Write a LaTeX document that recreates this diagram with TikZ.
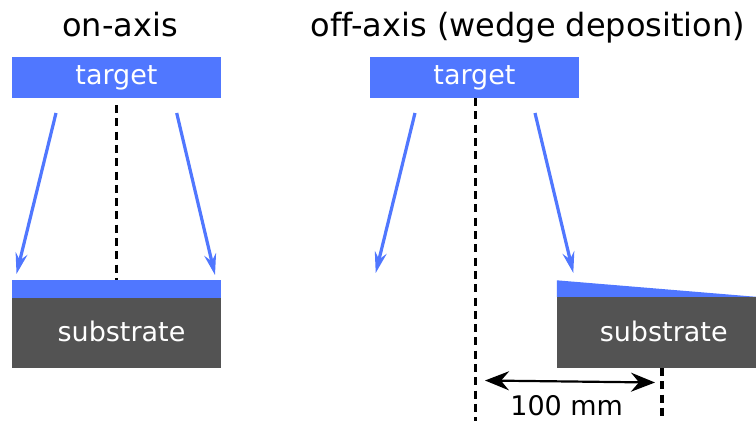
\documentclass[tikz,border=0pt]{standalone}
\usepackage{fontspec}
\setmainfont{DejaVu Sans}[Ligatures=NoCommon]
\usetikzlibrary{arrows.meta}
\definecolor{filmblue}{RGB}{80,119,255}
\definecolor{subgray}{RGB}{83,83,83}
\tikzset{
	targetbox/.style={fill=filmblue, text=white, inner sep=0pt, minimum width=209pt, minimum height=41pt, font=\fontsize{27}{30}\selectfont},
	filmbox/.style={fill=filmblue, inner sep=0pt, minimum width=209pt, minimum height=18pt},
	substratebox/.style={fill=subgray, inner sep=0pt},
	boxtext/.style={text=white, anchor=base, inner sep=0pt, font=\fontsize{27}{30}\selectfont},
	titletext/.style={anchor=base, inner sep=0pt, font=\fontsize{32}{36}\selectfont},
	flux/.style={filmblue, line width=3.2pt, -{Stealth[length=21pt,width=12pt,inset=7pt]}},
	axisline/.style={black, line width=3.2pt, dash pattern=on 8pt off 5.3pt},
	dimarrow/.style={black, line width=2.2pt, {Stealth[length=24pt,width=19pt,inset=8pt]}-{Stealth[length=24pt,width=19pt,inset=8pt]}}
}

\begin{document}
\begin{tikzpicture}[x=1pt, y=-1pt]
		\useasboundingbox (0, 0) rectangle (756, 421);
		%%%%% ON-AXIS %%%%%
		\node[titletext] (titleL) at (119.9, 36) {on-axis};
		\node[targetbox] (tgtL) at (116.5, 77.5) {target};
		\node[filmbox] (filmL) at (116.5, 289) {};
		\node[substratebox, minimum width=209pt, minimum height=70pt] (subL) at (116.5, 333) {};
		\node[boxtext] (subLtext) at (121.5, 341.7) {substrate};
		
		\coordinate (axLtop) at (116.5, 105);
		\draw[axisline] (axLtop) -- (filmL.north);
		
		\coordinate (fluxLa) at (56, 113);
		\coordinate (fluxLb) at (16.5, 274);
		\coordinate (fluxLc) at (176.7, 113);
		\coordinate (fluxLd) at (215, 275);
		\draw[flux] (fluxLa) -- (fluxLb);
		\draw[flux] (fluxLc) -- (fluxLd);
		
		%%%%% OFF-AXIS %%%%%
		\node[titletext] (titleR) at (528, 36) {off-axis (wedge deposition)};
		\node[targetbox] (tgtR) at (474.5, 77.5) {target};
		\node[substratebox, minimum width=199pt, minimum height=71pt] (subR) at (656.5, 332.5) {};
		\node[boxtext] (subRtext) at (663.7, 341.7) {substrate};
		\fill[filmblue] (subR.north west) -- ++(0, -16.5) -- (subR.north east) -- cycle;
		
		\coordinate (axRtop) at (475.3, 98);
		\coordinate (axRbot) at (475.3, 421);
		\coordinate (offtop) at (662, 368);
		\coordinate (offbot) at (662, 421);
		\draw[axisline] (axRtop) -- (axRbot);
		\draw[axisline] (offtop) -- (offbot);
		
		\coordinate (fluxRa) at (415, 113);
		\coordinate (fluxRb) at (375.7, 273);
		\coordinate (fluxRc) at (535, 113);
		\coordinate (fluxRd) at (573.3, 273);
		\draw[flux] (fluxRa) -- (fluxRb);
		\draw[flux] (fluxRc) -- (fluxRd);
		
		\coordinate (dimL) at (485, 380.5);
		\coordinate (dimR) at (655, 382.5);
		\draw[dimarrow] (dimL) -- (dimR);
		\node[boxtext, text=black] (dimtext) at (566.7, 415.5) {100 mm};
		%%%%% END %%%%%
	\end{tikzpicture}
\end{document}
